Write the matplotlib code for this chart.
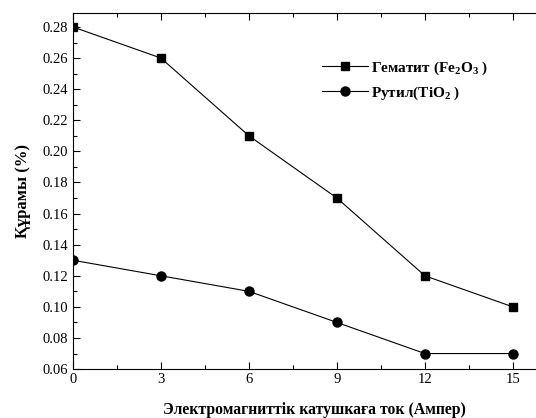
import matplotlib
matplotlib.use("Agg")
import matplotlib.pyplot as plt
from matplotlib.ticker import MultipleLocator, FormatStrFormatter

plt.rcParams["font.family"] = ["Liberation Serif", "DejaVu Serif"]
plt.rcParams["mathtext.fontset"] = "custom"
plt.rcParams["mathtext.rm"] = "Liberation Serif:bold"
plt.rcParams["mathtext.it"] = "Liberation Serif:bold"
plt.rcParams["mathtext.bf"] = "Liberation Serif:bold"

current = [0, 3, 6, 9, 12, 15]
hematite = [0.28, 0.26, 0.21, 0.17, 0.12, 0.10]
rutile = [0.13, 0.12, 0.11, 0.09, 0.07, 0.07]

fig = plt.figure(figsize=(5.36, 4.18), dpi=100)
ax = fig.add_axes([0.136, 0.117, 0.903, 0.852])

ax.plot(current, hematite, color="black", lw=0.8, marker="s", ms=6,
        label=r"Гематит (Fe$_2$O$_3$ )")
ax.plot(current, rutile, color="black", lw=0.8, marker="o", ms=6.5,
        label=r"Рутил(TiO$_2$ )")

ax.set_xlim(0, 16.5)
ax.set_ylim(0.06, 0.289)
ax.xaxis.set_major_locator(MultipleLocator(3))
ax.xaxis.set_minor_locator(MultipleLocator(1.5))
ax.yaxis.set_major_locator(MultipleLocator(0.02))
ax.yaxis.set_minor_locator(MultipleLocator(0.01))
ax.yaxis.set_major_formatter(FormatStrFormatter("%.2f"))
ax.tick_params(which="both", direction="in", top=True, labelsize=10.5, width=0.8)
ax.tick_params(which="major", length=5)
ax.tick_params(which="minor", length=3)
ax.tick_params(axis="x", pad=3)
for s in ax.spines.values():
    s.set_linewidth(0.8)

ax.set_xlabel("Электромагниттік катушкаға ток (Ампер)", fontsize=11.3,
              fontweight="bold", labelpad=11)
ax.set_ylabel("Құрамы (%)", fontsize=12, fontweight="bold", labelpad=8)

ax.legend(loc="upper left", bbox_to_anchor=(0.514, 0.87), frameon=False,
          prop={"weight": "bold", "size": 11}, handlelength=3.0,
          handletextpad=0.2, labelspacing=0.5, borderpad=0, borderaxespad=0)

fig.savefig("out.png", dpi=100)
